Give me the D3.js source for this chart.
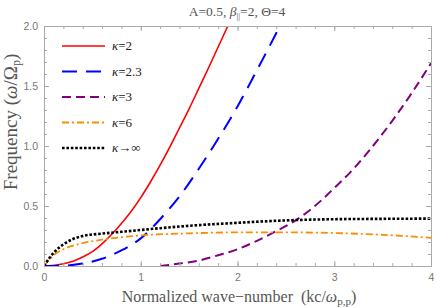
<!DOCTYPE html>
<html>
<head>
<meta charset="utf-8">
<script src="https://cdn.jsdelivr.net/npm/d3@7"></script>
<style>
body { margin: 0; background: #fff; }
.tick-label { font-family: "Liberation Sans", Arial, sans-serif; font-size: 10.5px; fill: #777; }
.serif { font-family: "Liberation Serif", "Times New Roman", serif; fill: #555; white-space: pre; }
</style>
</head>
<body>
<svg width="436" height="308"></svg>
<script>
// values
var kRed = [0, 0.1, 0.2, 0.3, 0.4, 0.5, 0.6, 0.7, 0.8, 0.9, 1.0, 1.1, 1.2, 1.3, 1.4, 1.5, 1.6, 1.7, 1.8, 1.9, 2.0];
var wRed = [0, 0.004, 0.018, 0.04, 0.075, 0.12, 0.185, 0.265, 0.355, 0.455, 0.57, 0.70, 0.84, 0.99, 1.15, 1.31, 1.48, 1.65, 1.825, 2.0, 2.18];

var kBlue = [0, 0.2, 0.4, 0.6, 0.8, 1.0, 1.2, 1.4, 1.6, 1.8, 2.0, 2.2, 2.4, 2.5];
var wBlue = [0, 0.003, 0.02, 0.06, 0.13, 0.23, 0.39, 0.58, 0.81, 1.06, 1.33, 1.63, 1.94, 2.1];

var kPurple = [1.2, 1.4, 1.6, 1.8, 2.0, 2.2, 2.4, 2.6, 2.8, 3.0, 3.2, 3.4, 3.6, 3.8, 4.0];
var wPurple = [0, 0.02, 0.045, 0.09, 0.14, 0.21, 0.29, 0.38, 0.50, 0.65, 0.81, 1.00, 1.21, 1.44, 1.69];

var kOrange = [0, 0.1, 0.2, 0.3, 0.4, 0.6, 0.8, 1.0, 1.5, 2.0, 2.5, 3.0, 3.5, 4.0];
var wOrange = [0, 0.09, 0.14, 0.17, 0.19, 0.22, 0.24, 0.255, 0.272, 0.28, 0.28, 0.275, 0.26, 0.235];

var kBlack = [0, 0.05, 0.1, 0.2, 0.3, 0.4, 0.6, 0.8, 1.0, 1.2, 1.5, 2.0, 2.5, 3.0, 3.5, 4.0];
var wBlack = [0, 0.06, 0.11, 0.18, 0.225, 0.25, 0.27, 0.285, 0.30, 0.315, 0.335, 0.36, 0.38, 0.39, 0.393, 0.395];

var labels = ["=2", "=2.3", "=3", "=6", "\u2192\u221e"];
var xTicks = [0, 1, 2, 3, 4];
var yTicks = [0, 0.5, 1.0, 1.5, 2.0];

var series = [
  {k: kRed, w: wRed, color: "#ff0000", dash: null, width: 1.6},
  {k: kBlue, w: wBlue, color: "#0000ff", dash: "15,9", width: 2},
  {k: kPurple, w: wPurple, color: "#800080", dash: "9,5", width: 2},
  {k: kOrange, w: wOrange, color: "#ff8c00", dash: "7,3,2,3", width: 1.8},
  {k: kBlack, w: wBlack, color: "#000000", dash: "2.6,1.8", width: 2.6}
];

var svg = d3.select("svg");
var pLeft = 44, pRight = 431, pTop = 26, pBottom = 266;

var x = d3.scaleLinear().domain([0, 4]).range([pLeft, pRight]);
var y = d3.scaleLinear().domain([0, 2]).range([pBottom, pTop]);

svg.append("defs").append("clipPath").attr("id", "plot")
  .append("rect").attr("x", pLeft).attr("y", pTop).attr("width", pRight - pLeft).attr("height", pBottom - pTop);

var line = d3.line()
  .x(function(d) { return x(d[0]); })
  .y(function(d) { return y(d[1]); })
  .curve(d3.curveMonotoneX);

var g = svg.append("g").attr("clip-path", "url(#plot)");
series.forEach(function(s) {
  var pts = s.k.map(function(k, i) { return [k, s.w[i]]; });
  g.append("path")
    .datum(pts)
    .attr("d", line)
    .attr("fill", "none")
    .attr("stroke", s.color)
    .attr("stroke-width", s.width)
    .attr("stroke-dasharray", s.dash);
});

// frame with inward ticks on all sides
var frameColor = "#aaa";
function frameAxis(axis, tr) {
  var a = svg.append("g").attr("transform", tr).call(axis);
  a.select(".domain").attr("stroke", frameColor);
  a.selectAll(".tick line").attr("stroke", frameColor);
  return a;
}
var minorX = d3.range(0, 4.01, 0.2), minorY = d3.range(0, 2.001, 0.1);

frameAxis(d3.axisBottom(x).tickValues(minorX).tickSize(-3).tickFormat(""), "translate(0," + pBottom + ")");
frameAxis(d3.axisTop(x).tickValues(minorX).tickSize(-3).tickFormat(""), "translate(0," + pTop + ")");
frameAxis(d3.axisLeft(y).tickValues(minorY).tickSize(-3).tickFormat(""), "translate(" + pLeft + ",0)");
frameAxis(d3.axisRight(y).tickValues(minorY).tickSize(-3).tickFormat(""), "translate(" + pRight + ",0)");

var xa = frameAxis(d3.axisBottom(x).tickValues(xTicks).tickSize(-5).tickPadding(8).tickFormat(d3.format("d")), "translate(0," + pBottom + ")");
xa.selectAll("text").attr("class", "tick-label").attr("fill", null);
frameAxis(d3.axisTop(x).tickValues(xTicks).tickSize(-5).tickFormat(""), "translate(0," + pTop + ")");
var ya = frameAxis(d3.axisLeft(y).tickValues(yTicks).tickSize(-5).tickPadding(6).tickFormat(d3.format(".1f")), "translate(" + pLeft + ",0)");
ya.selectAll("text").attr("class", "tick-label").attr("fill", null);
frameAxis(d3.axisRight(y).tickValues(yTicks).tickSize(-5).tickFormat(""), "translate(" + pRight + ",0)");

// title
var title = svg.append("text").attr("class", "serif").attr("x", 237).attr("y", 16)
  .attr("text-anchor", "middle").style("font-size", "13.5px");
title.append("tspan").text("A=0.5, ");
title.append("tspan").style("font-style", "italic").text("\u03b2");
title.append("tspan").attr("dy", 3).style("font-size", "9px").text("||");
title.append("tspan").attr("dy", -3).text("=2, \u0398=4");

// axis titles
var xl = svg.append("text").attr("class", "serif").attr("x", 239).attr("y", 302)
  .attr("text-anchor", "middle").style("font-size", "16px");
xl.append("tspan").text("Normalized wave\u2212number  (kc/");
xl.append("tspan").style("font-style", "italic").text("\u03c9");
xl.append("tspan").attr("dy", 3).style("font-size", "11px").text("p,p");
xl.append("tspan").attr("dy", -3).text(")");

var yl = svg.append("text").attr("class", "serif")
  .attr("transform", "translate(17,122) rotate(-90)")
  .attr("text-anchor", "middle").style("font-size", "19px");
yl.append("tspan").text("Frequency (");
yl.append("tspan").style("font-style", "italic").text("\u03c9");
yl.append("tspan").text("/\u03a9");
yl.append("tspan").attr("dy", 3).style("font-size", "12px").text("p");
yl.append("tspan").attr("dy", -3).text(")");

// legend
var legend = svg.append("g");
series.forEach(function(s, i) {
  var ly = 46 + i * 25.5;
  legend.append("line")
    .attr("x1", 62).attr("x2", 105).attr("y1", ly).attr("y2", ly)
    .attr("stroke", s.color).attr("stroke-width", s.width)
    .attr("stroke-dasharray", s.dash);
  var t = legend.append("text").attr("class", "serif").attr("x", 112).attr("y", ly + 4)
    .style("font-size", "13px").style("fill", "#222");
  t.append("tspan").style("font-style", "italic").text("\u03ba");
  t.append("tspan").text(labels[i]);
});
</script>
</body>
</html>
